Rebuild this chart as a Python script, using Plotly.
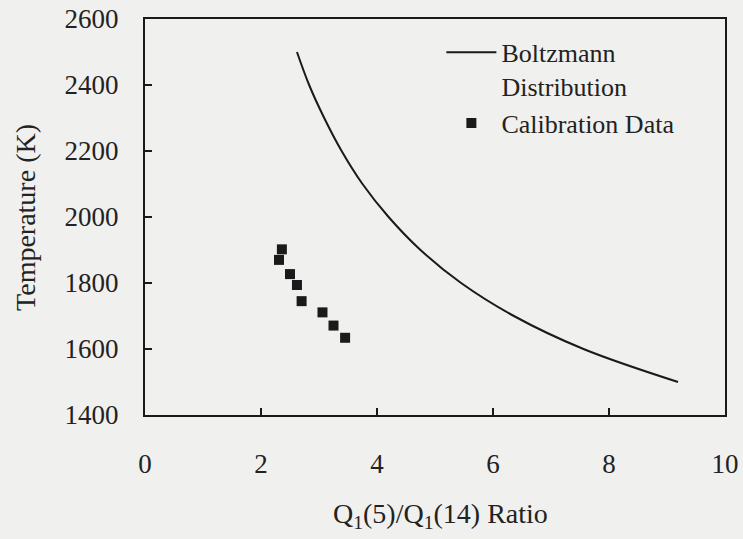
import plotly.graph_objects as go

# Boltzmann distribution curve
boltz_ratio = [2.62, 2.83, 3.09, 3.39, 3.75, 4.20, 4.75, 5.45, 6.36, 7.56, 9.19]
boltz_temp = [2500, 2400, 2300, 2200, 2100, 2000, 1900, 1800, 1700, 1600, 1500]

# Calibration data
calib_ratio = [2.36, 2.31, 2.50, 2.62, 2.70, 3.06, 3.25, 3.45]
calib_temp = [1902, 1870, 1827, 1794, 1745, 1711, 1671, 1634]

x_ticks = [0, 2, 4, 6, 8, 10]
y_ticks = [1400, 1600, 1800, 2000, 2200, 2400, 2600]

FONT = "Liberation Serif"
INK = "#1a1a1a"
BG = "#f0f0ee"

fig = go.Figure()
fig.add_trace(go.Scatter(
    x=boltz_ratio, y=boltz_temp, mode="lines", line=dict(color=INK, width=2, shape="spline"),
    name="Boltzmann<br>Distribution"))
fig.add_trace(go.Scatter(
    x=calib_ratio, y=calib_temp, mode="markers",
    marker=dict(symbol="square", size=10, color=INK), name="Calibration Data"))

fig.update_layout(
    width=743, height=539, autosize=False,
    margin=dict(l=145, r=18, t=19, b=124),
    paper_bgcolor=BG, plot_bgcolor=BG,
    font=dict(family=FONT, size=27, color="#222"),
    showlegend=True,
    legend=dict(x=0.511, y=0.975, xanchor="left", yanchor="top", bgcolor="rgba(0,0,0,0)",
                font=dict(size=26, family=FONT, color="#222"), valign="top",
                itemwidth=50, tracegroupgap=2),
    xaxis=dict(range=[0, 10], tickvals=x_ticks, ticks="inside", ticklen=7, tickwidth=2,
               tickcolor=INK, showline=True, linecolor=INK, linewidth=2, mirror=True,
               showgrid=False, zeroline=False, ticklabelstandoff=24, automargin=False),
    yaxis=dict(range=[1400, 2600], tickvals=y_ticks, ticks="inside", ticklen=7, tickwidth=2,
               tickcolor=INK, showline=True, linecolor=INK, linewidth=2, mirror=True,
               showgrid=False, zeroline=False, ticklabelstandoff=19, automargin=False),
    annotations=[
        dict(text="Q<sub>1</sub>(5)/Q<sub>1</sub>(14) Ratio", xref="paper", yref="paper",
             x=0.51, y=-0.255, xanchor="center", yanchor="middle", showarrow=False,
             font=dict(size=28, family=FONT, color="#222")),
        dict(text="Temperature (K)", xref="paper", yref="paper", textangle=-90,
             x=-0.207, y=0.5, xanchor="center", yanchor="middle", showarrow=False,
             font=dict(size=28, family=FONT, color="#222")),
    ],
)

fig.write_html("out.html")
